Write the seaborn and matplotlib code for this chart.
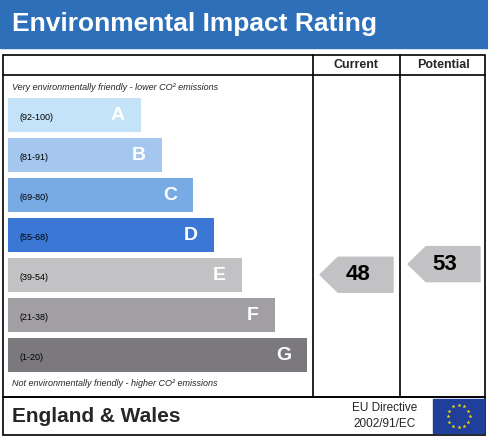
import matplotlib
matplotlib.use("Agg")
import matplotlib.pyplot as plt
from matplotlib.patches import Polygon, Rectangle
import numpy as np
import seaborn as sns

sns.set_theme(style="white")
plt.rcParams['font.family'] = ['Liberation Sans', 'DejaVu Sans']

letters = ["A", "B", "C", "D", "E", "F", "G"]
ranges = ["(92-100)", "(81-91)", "(69-80)", "(55-68)", "(39-54)", "(21-38)", "(1-20)"]
band_min = [92, 81, 69, 55, 39, 21, 1]
band_max = [100, 91, 80, 68, 54, 38, 20]
bar_colors = ["#c4e3f9", "#a5c6ee", "#78aae3", "#3b78d5", "#c2c2c4", "#a29fa4", "#7b797e"]
bar_ends = [141, 162, 193, 214, 242, 275, 307]
current = 48
potential = 53

W, H = 489, 437
fig = plt.figure(figsize=(W / 100, H / 100), dpi=100)
ax = fig.add_axes([0, 0, 1, 1])
ax.set_xlim(0, W)
ax.set_ylim(H, 0)
ax.axis("off")

# title bar
ax.add_patch(Rectangle((0, 0), W, 48, color="#2d6fb8"))
ax.text(12, 24, "Environmental Impact Rating", color="white", fontsize=19,
        fontweight="bold", va="center", ha="left")

# table frame
lw = 1.2
ax.add_patch(Rectangle((3, 55), 482, 342, fill=False, ec="black", lw=lw))
ax.plot([3, 485], [75, 75], color="black", lw=lw)
ax.plot([313, 313], [55, 397], color="black", lw=lw)
ax.plot([400, 400], [55, 397], color="black", lw=lw)
ax.text(356, 65, "Current", fontsize=9, fontweight="bold", ha="center", va="center")
ax.text(443, 65, "Potential", fontsize=9, fontweight="bold", ha="center", va="center")
ax.text(12, 88, "Very environmentally friendly - lower CO\u00b2 emissions", fontsize=6.5,
        style="italic", va="center")
ax.text(12, 383, "Not environmentally friendly - higher CO\u00b2 emissions", fontsize=6.5,
        style="italic", va="center")

# bands
tops = [98 + 40 * i for i in range(len(letters))]
bh = 34
ax.barh([t + bh / 2 for t in tops], [e - 8 for e in bar_ends], height=bh, left=8,
        color=bar_colors, edgecolor="none")
for t, e, l, r in zip(tops, bar_ends, letters, ranges):
    ax.text(20, t + bh / 2 + 2, r, fontsize=6.5, va="center", color="black")
    ax.text(e - 16, t + bh / 2, l, fontsize=14, fontweight="bold", ha="right",
            va="center", color="white")


def arrow_y(v):
    for t, lo, hi in zip(tops, band_min, band_max):
        if lo <= v <= hi:
            return t + (hi - v) / (hi - lo + 1) * bh + 4
    return tops[-1]


def arrow(x0, x1, v):
    yc = arrow_y(v)
    ah = 35
    pts = [(x0, yc), (x0 + 18, yc - ah / 2), (x1, yc - ah / 2), (x1, yc + ah / 2),
           (x0 + 18, yc + ah / 2)]
    idx = next(i for i, (lo, hi) in enumerate(zip(band_min, band_max)) if lo <= v <= hi)
    ax.add_patch(Polygon(pts, closed=True, color=bar_colors[idx]))
    ax.text((x0 + x1) / 2 + 1, yc, str(v), fontsize=16, fontweight="bold",
            ha="center", va="center", color="black")


arrow(320, 393, current)
arrow(408, 480, potential)

# footer
ax.add_patch(Rectangle((3, 397), 482, 38, fill=False, ec="black", lw=lw))
ax.text(12, 416, "England & Wales", fontsize=15, fontweight="bold", va="center")
ax.text(385, 408, "EU Directive", fontsize=8.5, ha="center", va="center")
ax.text(385, 424, "2002/91/EC", fontsize=8.5, ha="center", va="center")
ax.add_patch(Rectangle((433, 399), 51, 34, color="#1f3f9a"))
for a in np.linspace(0, 2 * np.pi, 13)[:-1]:
    ax.plot(458.5 + 11 * np.cos(a), 416 + 11 * np.sin(a), marker="*", ms=3,
            color="#ffdd00", mec="none")

fig.savefig("out.png", dpi=100)
